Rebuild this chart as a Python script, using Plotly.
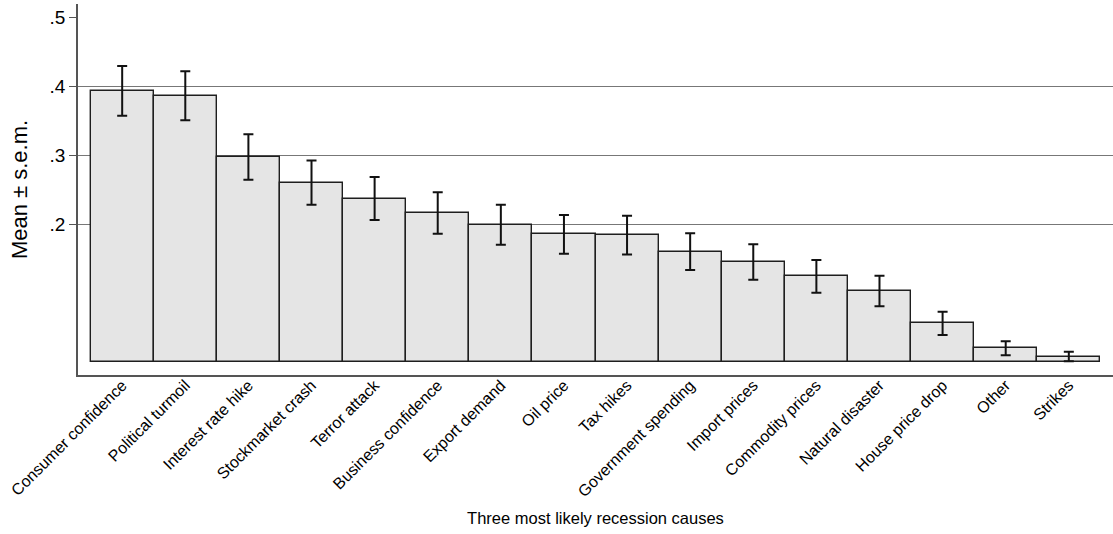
import plotly.graph_objects as go

causes = ["Consumer confidence", "Political turmoil", "Interest rate hike", "Stockmarket crash",
          "Terror attack", "Business confidence", "Export demand", "Oil price", "Tax hikes",
          "Government spending", "Import prices", "Commodity prices", "Natural disaster",
          "House price drop", "Other", "Strikes"]
means = [0.393, 0.386, 0.297, 0.260, 0.237, 0.216, 0.199, 0.185, 0.184, 0.160, 0.145, 0.124,
         0.103, 0.056, 0.020, 0.008]
sems = [0.036, 0.0355, 0.033, 0.032, 0.031, 0.030, 0.029, 0.028, 0.028, 0.0266, 0.0256, 0.0237,
        0.022, 0.017, 0.010, 0.0068]
ytick_vals = [0.2, 0.3, 0.4, 0.5]
ytick_text = [".2", ".3", ".4", ".5"]
grid_vals = [0.2, 0.3, 0.4]

FONT = "Liberation Sans, Arial, Helvetica, sans-serif"
yrange = [-0.0188, 0.5189]

fig = go.Figure()
# invisible helper trace so the overlaid grid axis is drawn
fig.add_trace(go.Scatter(
    x=causes, y=means, yaxis="y2", mode="markers", marker=dict(opacity=0),
    hoverinfo="skip", showlegend=False,
))
fig.add_trace(go.Bar(
    x=causes, y=means,
    marker=dict(color="#e5e5e5", line=dict(color="#1e1e1e", width=1.4)),
    error_y=dict(type="data", array=sems, visible=True, color="#111111", thickness=2, width=5),
    showlegend=False,
))

fig.update_layout(
    width=1113, height=534,
    margin=dict(l=78, r=0, t=4, b=159),
    paper_bgcolor="white", plot_bgcolor="white",
    bargap=0,
    font=dict(family=FONT, color="#000000"),
    xaxis=dict(
        range=[-0.7, 15.7], showline=True, linecolor="#555555", linewidth=1.5,
        ticks="", tickangle=-45, tickfont=dict(size=16), showgrid=False, zeroline=False,
        ticklabelstandoff=-7,
        title=dict(text="Three most likely recession causes", font=dict(size=16.5), standoff=13),
        automargin=False,
    ),
    yaxis=dict(
        range=yrange, tickvals=ytick_vals, ticktext=ytick_text, showgrid=False,
        showline=True, linecolor="#555555", linewidth=1.5, ticks="outside", ticklen=7,
        tickcolor="#555555", tickfont=dict(size=19), zeroline=False,
        title=dict(text="Mean ± s.e.m.", font=dict(size=22), standoff=16),
        automargin=False,
    ),
    yaxis2=dict(
        range=yrange, overlaying="y", side="left", tickvals=grid_vals, showgrid=True,
        gridcolor="#777777", gridwidth=1, showticklabels=False, ticks="", showline=False,
        zeroline=False,
    ),
)

fig.write_html("out.html", config={"displayModeBar": False},
               post_script="document.body.style.margin='0';")
